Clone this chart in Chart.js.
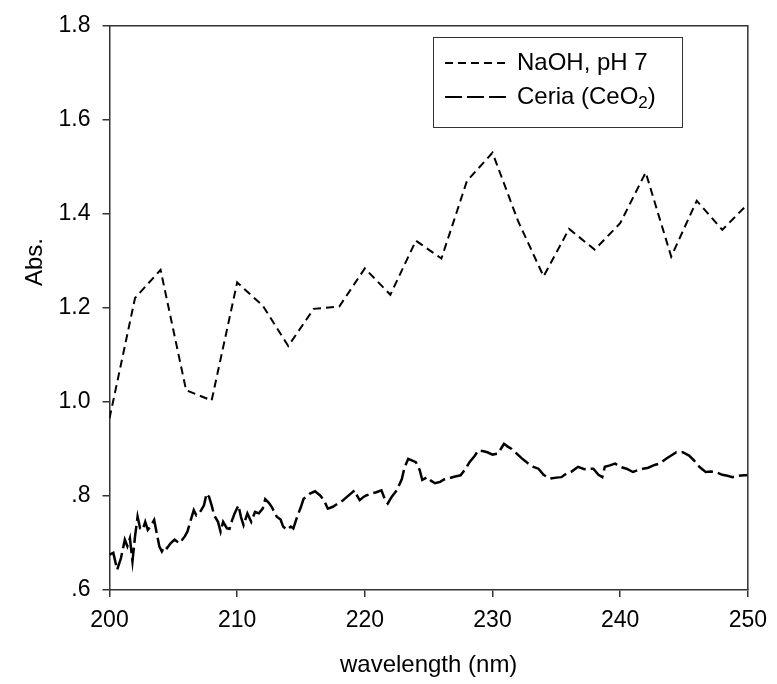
<!DOCTYPE html>
<html>
<head>
<meta charset="utf-8">
<script src="https://cdn.jsdelivr.net/npm/chart.js@4/dist/chart.umd.min.js"></script>
<style>
  html, body { margin: 0; padding: 0; background: #fff; }
  #wrap { width: 777px; height: 684px; }
</style>
</head>
<body>
<div id="wrap"><canvas id="c" width="777" height="684"></canvas></div>
<script>
// ---- data ----
const xTicks = [200, 210, 220, 230, 240, 250];
const yTickValues = [0.6, 0.8, 1.0, 1.2, 1.4, 1.6, 1.8];
const yTickLabels = ['.6', '.8', '1.0', '1.2', '1.4', '1.6', '1.8'];

const seriesNames = ['NaOH, pH 7', 'Ceria (CeO2)'];

const wavelengthNaOH = [200, 202, 204, 206, 208, 210, 212, 214, 216, 218, 220, 222, 224,
  226, 228, 230, 232, 234, 236, 238, 240, 242, 244, 246, 248, 250];
const absNaOH = [0.965, 1.221, 1.281, 1.025, 1.003, 1.254, 1.205, 1.119, 1.198, 1.203, 1.284, 1.228, 1.343,
  1.305, 1.470, 1.530, 1.385, 1.267, 1.368, 1.324, 1.380, 1.488, 1.309, 1.428, 1.366, 1.421];

const wavelengthCeria = [200.0, 200.3, 200.6, 200.9, 201.2, 201.4, 201.6, 201.8, 202.0, 202.2, 202.4, 202.6, 202.8,
  203.0, 203.2, 203.5, 203.7, 203.9, 204.1, 204.3, 204.5, 204.8, 205.1, 205.3, 205.5, 205.7, 205.9, 206.1, 206.4,
  206.6, 206.8, 207.1, 207.4, 207.6, 207.8, 208.0, 208.2, 208.5, 208.7, 208.9, 209.2, 209.4, 209.6, 209.8, 210.1,
  210.3, 210.5, 210.8, 211.1, 211.4, 211.7, 212.0, 212.2, 212.5, 212.7, 213.1, 213.4, 213.6, 213.9, 214.2, 214.4,
  214.7, 215.0, 215.2, 215.5, 215.7, 216.1, 216.5, 216.8, 217.1, 217.5, 217.9, 218.3, 218.6, 218.9, 219.2, 219.4,
  219.6, 219.9, 220.1, 220.5, 220.9, 221.3, 221.6, 221.8, 222.1, 222.5, 222.9, 223.1, 223.4, 224.0, 224.3, 224.5,
  224.9, 225.2, 225.5, 225.9, 226.2, 226.5, 227.0, 227.5, 227.9, 228.2, 228.6, 228.9, 229.3, 229.6, 230.0, 230.4,
  230.7, 230.9, 231.2, 231.5, 231.9, 232.3, 232.8, 233.2, 233.6, 234.0, 234.5, 235.0, 235.4, 235.8, 236.2, 236.7,
  237.2, 237.9, 238.3, 238.6, 238.8, 239.2, 239.6, 240.0, 240.5, 241.0, 241.4, 241.8, 242.2, 242.7, 243.1, 243.6,
  244.0, 244.4, 244.9, 245.4, 245.8, 246.2, 246.7, 247.1, 247.5, 248.0, 248.4, 248.8, 249.3, 249.7, 250.0];
const absCeria = [0.675, 0.679, 0.643, 0.668, 0.707, 0.693, 0.710, 0.661, 0.714, 0.756, 0.731, 0.728, 0.745,
  0.728, 0.735, 0.749, 0.721, 0.693, 0.682, 0.693, 0.689, 0.700, 0.707, 0.703, 0.710, 0.707, 0.714, 0.724, 0.752,
  0.770, 0.759, 0.766, 0.780, 0.805, 0.798, 0.780, 0.759, 0.745, 0.724, 0.745, 0.731, 0.730, 0.748, 0.763, 0.780,
  0.755, 0.738, 0.763, 0.745, 0.766, 0.763, 0.773, 0.793, 0.785, 0.777, 0.756, 0.750, 0.735, 0.728, 0.735, 0.731,
  0.756, 0.777, 0.794, 0.800, 0.805, 0.810, 0.801, 0.791, 0.773, 0.777, 0.784, 0.791, 0.798, 0.805, 0.812, 0.800,
  0.791, 0.798, 0.801, 0.805, 0.808, 0.812, 0.791, 0.784, 0.798, 0.812, 0.836, 0.860, 0.879, 0.872, 0.855, 0.834,
  0.840, 0.832, 0.827, 0.830, 0.835, 0.837, 0.841, 0.844, 0.858, 0.872, 0.885, 0.897, 0.895, 0.893, 0.888, 0.890,
  0.902, 0.911, 0.905, 0.900, 0.890, 0.880, 0.869, 0.862, 0.858, 0.845, 0.837, 0.839, 0.840, 0.848, 0.852, 0.862,
  0.857, 0.858, 0.845, 0.840, 0.862, 0.865, 0.869, 0.862, 0.858, 0.851, 0.855, 0.858, 0.860, 0.866, 0.869, 0.879,
  0.886, 0.893, 0.893, 0.886, 0.875, 0.862, 0.851, 0.852, 0.851, 0.845, 0.843, 0.840, 0.843, 0.844, 0.844];

// ---- chart ----
const FONT = "'Liberation Sans', Arial, sans-serif";
Chart.defaults.font.family = FONT;
Chart.defaults.color = '#000';

const toPoints = (xs, ys) => xs.map((x, i) => ({ x: x, y: ys[i] }));

const frameAndTitles = {
  id: 'frameAndTitles',
  afterDraw(chart) {
    const { ctx, chartArea: a } = chart;
    ctx.save();
    // top and right frame lines
    ctx.strokeStyle = '#333';
    ctx.lineWidth = 1.5;
    ctx.beginPath();
    ctx.moveTo(a.left, a.top);
    ctx.lineTo(a.right, a.top);
    ctx.lineTo(a.right, a.bottom);
    ctx.stroke();
    // y axis title
    ctx.fillStyle = '#000';
    ctx.font = '24px ' + FONT;
    ctx.textAlign = 'center';
    ctx.textBaseline = 'middle';
    ctx.translate(35, 262);
    ctx.rotate(-Math.PI / 2);
    ctx.fillText('Abs.', 0, 0);
    ctx.restore();

    // legend
    ctx.save();
    const bx = 433, by = 37, bw = 249, bh = 90;
    ctx.strokeStyle = '#333';
    ctx.lineWidth = 1;
    ctx.fillStyle = '#fff';
    ctx.fillRect(bx, by, bw, bh);
    ctx.strokeRect(bx + 0.5, by + 0.5, bw, bh);
    const rows = [63, 97];
    chart.data.datasets.forEach((ds, i) => {
      const y = rows[i];
      ctx.strokeStyle = '#000';
      ctx.lineWidth = 2;
      ctx.setLineDash(ds.borderDash);
      ctx.beginPath();
      ctx.moveTo(445, y);
      ctx.lineTo(506, y);
      ctx.stroke();
      ctx.setLineDash([]);
      ctx.fillStyle = '#000';
      ctx.textAlign = 'left';
      ctx.textBaseline = 'middle';
      ctx.font = '24px ' + FONT;
      const label = ds.label;
      const m = label.match(/^(.*?)(\d)(\)?)$/);
      if (i === 1 && m) {
        ctx.fillText(m[1], 517, y);
        let w = ctx.measureText(m[1]).width;
        ctx.font = '17px ' + FONT;
        ctx.fillText(m[2], 517 + w, y + 6);
        w += ctx.measureText(m[2]).width;
        ctx.font = '24px ' + FONT;
        ctx.fillText(m[3], 517 + w, y);
      } else {
        ctx.fillText(label, 517, y);
      }
    });
    ctx.restore();
  }
};

new Chart(document.getElementById('c'), {
  type: 'line',
  data: {
    datasets: [
      {
        label: seriesNames[0],
        data: toPoints(wavelengthNaOH, absNaOH),
        borderColor: '#000',
        borderWidth: 2,
        borderDash: [8, 5],
        pointRadius: 0,
        tension: 0,
        fill: false
      },
      {
        label: seriesNames[1],
        data: toPoints(wavelengthCeria, absCeria),
        borderColor: '#000',
        borderWidth: 2.5,
        borderDash: [17, 5],
        pointRadius: 0,
        tension: 0,
        fill: false
      }
    ]
  },
  options: {
    responsive: false,
    animation: false,
    devicePixelRatio: 1,
    layout: { padding: { top: 20, right: 24, left: 0, bottom: 2 } },
    plugins: { legend: { display: false }, tooltip: { enabled: false } },
    scales: {
      x: {
        type: 'linear',
        min: 200,
        max: 250,
        afterBuildTicks(s) { s.ticks = xTicks.map(v => ({ value: v })); },
        ticks: { font: { size: 23 }, color: '#000', padding: 10, maxRotation: 0 },
        grid: { drawOnChartArea: false, drawTicks: true, tickLength: 7, color: '#333', lineWidth: 1.5 },
        border: { display: true, color: '#333', width: 1.5 },
        title: { display: true, text: 'wavelength (nm)', font: { size: 24 }, color: '#000', padding: { top: 0, bottom: 2 } },
        afterFit(s) { s.height = 92; }
      },
      y: {
        type: 'linear',
        min: 0.6,
        max: 1.8,
        afterBuildTicks(s) { s.ticks = yTickValues.map(v => ({ value: v })); },
        ticks: {
          font: { size: 23 },
          color: '#000',
          padding: 12,
          callback(v) {
            const i = yTickValues.findIndex(t => Math.abs(t - v) < 1e-6);
            return i >= 0 ? yTickLabels[i] : '';
          }
        },
        grid: { drawOnChartArea: false, drawTicks: true, tickLength: 7, color: '#333', lineWidth: 1.5 },
        border: { display: true, color: '#333', width: 1.5 },
        afterFit(s) { s.width = 109.5; }
      }
    }
  },
  plugins: [frameAndTitles]
});
</script>
</body>
</html>
